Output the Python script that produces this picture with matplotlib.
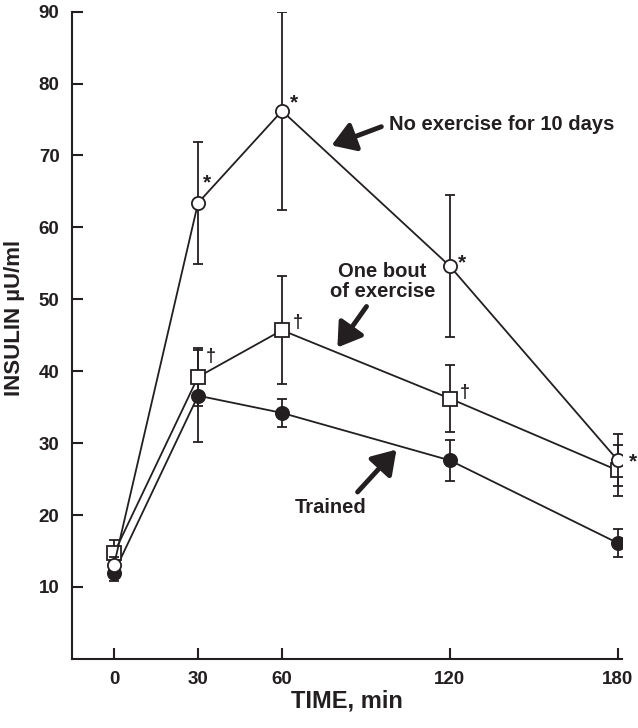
import matplotlib
matplotlib.use("Agg")
import matplotlib.pyplot as plt

plt.rcParams['font.family'] = ['Liberation Sans', 'DejaVu Sans']
plt.rcParams['font.weight'] = 'bold'

time = [0, 30, 60, 120, 180]
no_ex = [13.1, 63.4, 76.2, 54.6, 27.6]
no_ex_err = [1.0, 8.5, 13.8, 9.9, 3.6]
one_bout = [14.7, 39.2, 45.7, 36.2, 26.2]
one_bout_err = [1.8, 4.0, 7.5, 4.7, 3.6]
trained = [12.0, 36.6, 34.2, 27.6, 16.1]
trained_err = [1.2, 6.4, 1.9, 2.8, 1.9]

xticks = [0, 30, 60, 120, 180]
yticks = [10, 20, 30, 40, 50, 60, 70, 80, 90]

ink = '#231f20'

fig = plt.figure(figsize=(6.38, 7.28), dpi=100)
ax = fig.add_axes([0.113, 0.095, 0.862, 0.889])

common = dict(color=ink, lw=1.3, capsize=3.5, elinewidth=1.3, capthick=1.3,
              markeredgewidth=1.3, markersize=9.5)
ax.errorbar(time, trained, yerr=trained_err, fmt='o', mfc=ink, mec=ink,
            ls='-', zorder=3, **common)
ax.errorbar(time, one_bout, yerr=one_bout_err, fmt='s', mfc='white', mec=ink,
            ls='-', zorder=4, **common)
ax.errorbar(time, no_ex, yerr=no_ex_err, fmt='o', mfc='white', mec=ink,
            ls='-', zorder=5, **common)

# significance symbols
star_off = [(9, 20), (12, 8), (12, 3), (15, -2)]
for (xo, yo), t, v in zip(star_off, time[1:], no_ex[1:]):
    ax.annotate('*', (t, v), xytext=(xo, yo), textcoords='offset pixels',
                ha='center', va='center', fontsize=15, fontweight='bold', color=ink)
dag_off = [(13, 20), (16, 8), (15, 6)]
for (xo, yo), t, v in zip(dag_off, time[1:4], one_bout[1:4]):
    ax.annotate('†', (t, v), xytext=(xo, yo), textcoords='offset pixels',
                ha='center', va='center', fontsize=13, fontweight='bold', color=ink)

arrow = dict(arrowstyle='-|>,head_length=0.7,head_width=0.45', lw=3.5,
             color=ink, shrinkA=0, shrinkB=0, mutation_scale=20)
ax.text(98.4, 74.3, 'No exercise for 10 days', ha='left', va='center',
        fontsize=14.5, fontweight='bold', color=ink)
ax.annotate('', xy=(77.7, 71.4), xytext=(95.5, 74.0), arrowprops=arrow)

ax.text(95.9, 52.5, 'One bout\nof exercise', ha='center', va='center',
        fontsize=14.5, fontweight='bold', color=ink, linespacing=1.05)
ax.annotate('', xy=(79.8, 43.3), xytext=(90.2, 49.0), arrowprops=arrow)

ax.text(77.3, 21.0, 'Trained', ha='center', va='center',
        fontsize=14.5, fontweight='bold', color=ink)
ax.annotate('', xy=(100.9, 29.1), xytext=(87.0, 23.2), arrowprops=arrow)

ax.set_xlim(-15, 181.5)
ax.set_ylim(0, 90)
ax.set_xticks(xticks)
ax.set_yticks(yticks)
ax.tick_params(direction='in', length=8, width=1.5, colors=ink,
               labelsize=13.5, pad=9)
for lab in ax.get_xticklabels() + ax.get_yticklabels():
    lab.set_fontweight('bold')
for s in ['top', 'right']:
    ax.spines[s].set_visible(False)
for s in ['left', 'bottom']:
    ax.spines[s].set_linewidth(1.5)
    ax.spines[s].set_color(ink)

ax.set_xlabel('TIME, min', fontsize=17, fontweight='bold', color=ink)
ax.set_ylabel('INSULIN µU/ml', fontsize=16, fontweight='bold', color=ink)
ax.xaxis.set_label_coords(0.5, -0.047)
ax.yaxis.set_label_coords(-0.086, 0.527)

fig.savefig('out.png', dpi=100)
